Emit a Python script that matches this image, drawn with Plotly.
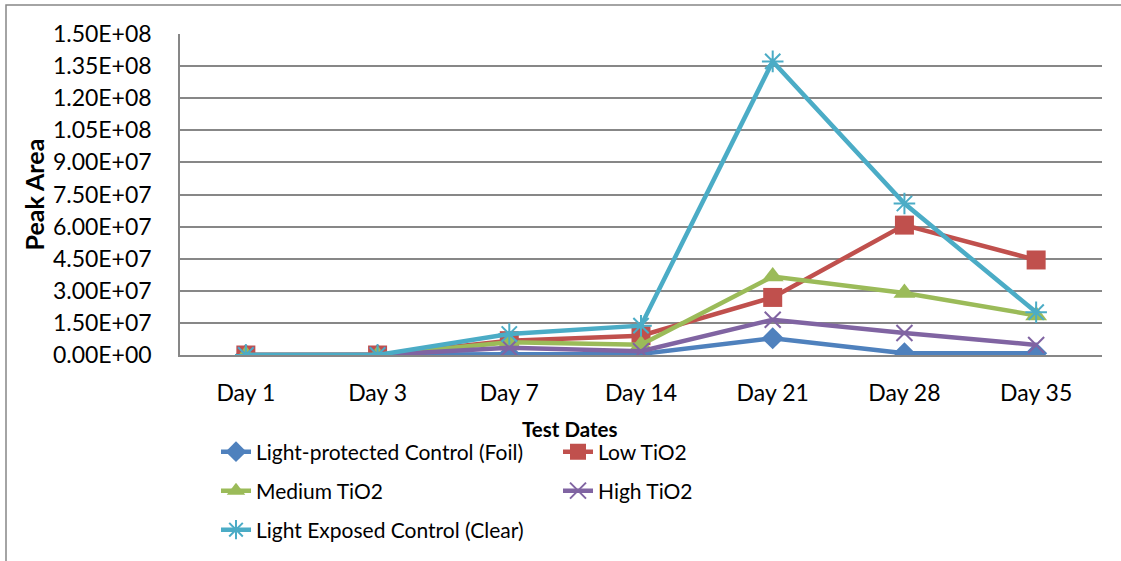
import plotly.graph_objects as go

# Test dates (category axis)
days = ["Day 1", "Day 3", "Day 7", "Day 14", "Day 21", "Day 28", "Day 35"]

# Peak area per sample group
foil = [0, 0, 5.0e5, 5.0e5, 7.8e6, 8.0e5, 8.0e5]
low_tio2 = [0, 0, 6.7e6, 9.0e6, 2.69e7, 6.07e7, 4.44e7]
medium_tio2 = [0, 0, 5.9e6, 4.8e6, 3.67e7, 2.9e7, 1.85e7]
high_tio2 = [0, 0, 3.4e6, 1.8e6, 1.65e7, 1.03e7, 4.7e6]
clear = [0, 0, 9.8e6, 1.37e7, 1.372e8, 7.08e7, 2.0e7]

# Y-axis ticks
y_ticks = [i * 1.5e7 for i in range(11)]
y_tick_text = [f"{v:.2E}" for v in y_ticks]

FONT = "Lato"
W, H = 1121, 561
L, R, T, B = 180, 19, 34, 205
PW, PH = W - L - R, H - T - B


def px_x(x):
    return (x - L) / PW


def px_y(y):
    return (H - B - y) / PH


series = [
    ("Light-protected Control (Foil)", foil, "#4F81BD",
     dict(symbol="diamond", size=17)),
    ("Low TiO2", low_tio2, "#C0504D",
     dict(symbol="square", size=19)),
    ("Medium TiO2", medium_tio2, "#9BBB59",
     dict(symbol="triangle-up", size=19)),
    ("High TiO2", high_tio2, "#8064A2",
     dict(symbol="x-thin-open", size=16, line=dict(width=2, color="#8064A2"))),
    ("Light Exposed Control (Clear)", clear, "#4BACC6",
     dict(symbol="asterisk-open", size=18, line=dict(width=2, color="#4BACC6"))),
]

# legend slots: (legend id, left x px, row centre y px)
slots = [("legend", 216, 452), ("legend2", 558, 452), ("legend3", 216, 491),
         ("legend4", 558, 491), ("legend5", 216, 530)]

fig = go.Figure()
legend_layout = {}
for (name, vals, color, marker), (lg, lx, ly) in zip(series, slots):
    marker = dict(marker)
    marker.setdefault("color", color)
    fig.add_trace(go.Scatter(
        x=days, y=vals, name=name, mode="lines+markers",
        line=dict(color=color, width=4.5),
        marker=marker, legend=lg,
    ))
    legend_layout[lg] = dict(
        x=px_x(lx), y=px_y(ly), xanchor="left", yanchor="middle",
        bgcolor="rgba(0,0,0,0)", borderwidth=0,
        font=dict(family=FONT, size=21, color="black"),
    )

fig.update_layout(
    width=W, height=H,
    margin=dict(l=L, r=R, t=T, b=B),
    paper_bgcolor="white", plot_bgcolor="white",
    font=dict(family=FONT, size=22, color="black"),
    showlegend=True,
    xaxis=dict(
        type="category", range=[-0.5, 6.5],
        showgrid=False, showline=True, linecolor="#878787", linewidth=1.5,
        ticks="", ticklabelstandoff=17,
        tickfont=dict(family=FONT, size=23, color="black"),
        zeroline=False,
    ),
    yaxis=dict(
        range=[0, 1.5e8], tickvals=y_ticks, ticktext=y_tick_text,
        showgrid=True, gridcolor="#878787", gridwidth=1.5,
        showline=True, linecolor="#878787", linewidth=1.5,
        ticks="", ticklabelstandoff=22, zeroline=False,
        tickfont=dict(family=FONT, size=23, color="black"),
    ),
    annotations=[
        dict(text="<b>Peak Area</b>", x=px_x(33), y=0.5, xref="paper", yref="paper",
             textangle=-90, showarrow=False, xanchor="center", yanchor="middle",
             font=dict(family=FONT, size=25, color="black")),
        dict(text="<b>Test Dates</b>", x=px_x(570), y=px_y(430), xref="paper", yref="paper",
             showarrow=False, xanchor="center", yanchor="middle",
             font=dict(family=FONT, size=20.5, color="black")),
    ],
    shapes=[
        dict(type="rect", xref="paper", yref="paper",
             x0=px_x(6), x1=px_x(1130), y0=px_y(570), y1=px_y(5),
             line=dict(color="#878787", width=1.5), fillcolor="rgba(0,0,0,0)",
             layer="below"),
    ],
    **legend_layout,
)

fig.write_html("out.html")
